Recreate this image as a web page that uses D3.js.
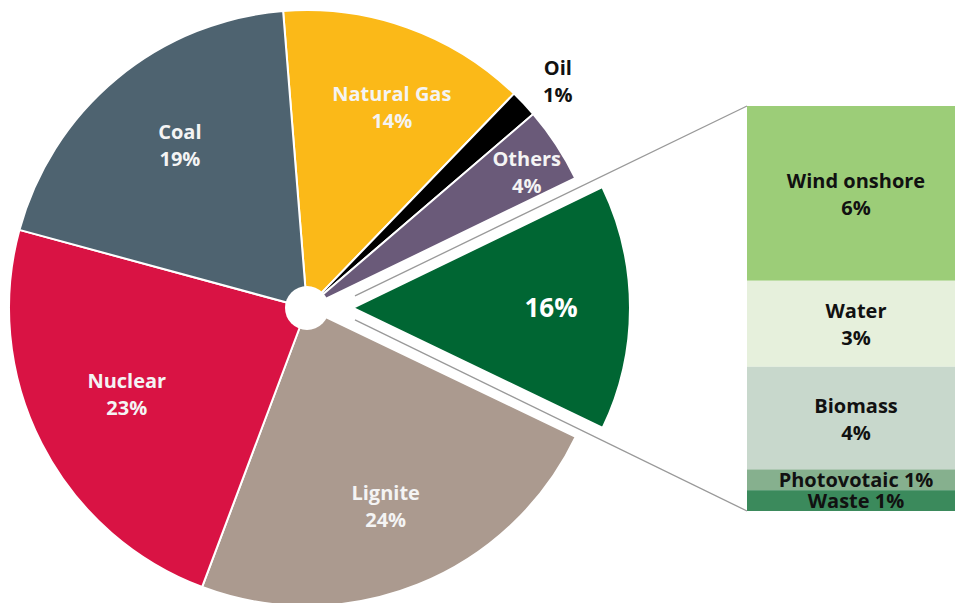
<!DOCTYPE html>
<html>
<head>
<meta charset="utf-8">
<script src="https://cdn.jsdelivr.net/npm/d3@7"></script>
<style>
body { margin: 0; background: #fff; }
text { font-family: 'Open Sans', sans-serif; font-weight: 700; }
</style>
</head>
<body>
<svg width="955" height="603"></svg>
<script>
// electricity mix (shares as drawn, labels as printed)
var sources = ['Natural Gas', 'Oil', 'Others', 'Renewables', 'Lignite', 'Nuclear', 'Coal'];
var shares = [13.5, 1.5, 4.1, 14.3, 23.6, 23.5, 19.5];
var shareLabels = ['14%', '1%', '4%', '16%', '24%', '23%', '19%'];
var sourceColors = ['#fbb918', '#000000', '#6a5a79', '#006633', '#ab9a8f', '#d91344', '#4e6370'];

// breakdown of renewables
var renewables = ['Wind onshore', 'Water', 'Biomass', 'Photovotaic', 'Waste'];
var renewableShares = [6.3, 3.1, 3.7, 0.75, 0.75];
var renewableLabels = ['6%', '3%', '4%', '1%', '1%'];
var renewableColors = ['#9ccd78', '#e6f0dc', '#c8d8cc', '#86b08e', '#3b8a5c'];

var svg = d3.select('svg');

var cx = 307, cy = 308, R = 298;
var startA = -4.6 * Math.PI / 180;
var explode = 46, greenR = 277;
var deg = Math.PI / 180;

var pie = d3.pie().sort(null).value(function(d) { return d; })
    .startAngle(startA).endAngle(startA + 2 * Math.PI);
var arcs = pie(shares);

var arc = d3.arc().innerRadius(0).outerRadius(R);
var arcGreen = d3.arc().innerRadius(0).outerRadius(greenR);

function mid(d) { return (d.startAngle + d.endAngle) / 2; }
function polar(a, r) { return [Math.sin(a) * r, -Math.cos(a) * r]; }

var g = svg.append('g').attr('transform', 'translate(' + cx + ',' + cy + ')');

g.selectAll('path.slice')
    .data(arcs)
    .enter()
    .append('path')
    .attr('class', 'slice')
    .attr('transform', function(d, i) {
        if (sources[i] !== 'Renewables') return null;
        var p = polar(mid(d), explode);
        return 'translate(' + p[0] + ',' + p[1] + ')';
    })
    .attr('d', function(d, i) { return sources[i] === 'Renewables' ? arcGreen(d) : arc(d); })
    .attr('fill', function(d, i) { return sourceColors[i]; })
    .attr('stroke', '#fff')
    .attr('stroke-width', 2);

g.append('circle').attr('r', 22).attr('fill', '#fff');

// labels: radius and a small angle nudge from the slice middle
var labelR = { 'Natural Gas': 218, 'Oil': 338, 'Others': 258, 'Lignite': 214, 'Nuclear': 200, 'Coal': 206, 'Renewables': 198 };
var labelShift = { 'Natural Gas': 3.2, 'Oil': 1.2, 'Others': 1.6, 'Lignite': 0.3, 'Nuclear': 1.4, 'Coal': 1.6, 'Renewables': 0 };
arcs.forEach(function(d, i) {
    var name = sources[i];
    var p = polar(mid(d) + labelShift[name] * deg, labelR[name]);
    if (name === 'Renewables') {
        p[0] += polar(mid(d), explode)[0];
        g.append('text')
            .attr('x', p[0]).attr('y', p[1] + 9)
            .attr('text-anchor', 'middle')
            .attr('font-size', 26)
            .attr('fill', '#fff')
            .text(shareLabels[i]);
        return;
    }
    var t = g.append('text')
        .attr('text-anchor', 'middle')
        .attr('font-size', 20)
        .attr('fill', name === 'Oil' ? '#111' : '#f4f4f4');
    t.append('tspan').attr('x', p[0]).attr('y', p[1] - 6.5).text(name);
    t.append('tspan').attr('x', p[0]).attr('y', p[1] + 20.5).text(shareLabels[i]);
});

// stacked breakdown box
var boxX = 747, boxW = 218;
var total = d3.sum(renewableShares);
var scaleY = d3.scaleLinear().domain([0, total]).range([106, 511]);
var cum = 0;
var stack = renewableShares.map(function(v) { var s = cum; cum += v; return [s, cum]; });

svg.selectAll('rect.part')
    .data(stack)
    .enter()
    .append('rect')
    .attr('class', 'part')
    .attr('x', boxX)
    .attr('y', function(d) { return scaleY(d[0]); })
    .attr('width', boxW)
    .attr('height', function(d) { return scaleY(d[1]) - scaleY(d[0]); })
    .attr('fill', function(d, i) { return renewableColors[i]; });

stack.forEach(function(d, i) {
    var m = (scaleY(d[0]) + scaleY(d[1])) / 2;
    var x = boxX + boxW / 2;
    var t = svg.append('text')
        .attr('text-anchor', 'middle')
        .attr('font-size', 20)
        .attr('fill', '#111');
    if (scaleY(d[1]) - scaleY(d[0]) < 40) {
        t.attr('x', x).attr('y', m + 7).text(renewables[i] + ' ' + renewableLabels[i]);
    } else {
        t.append('tspan').attr('x', x).attr('y', m - 5.5).text(renewables[i]);
        t.append('tspan').attr('x', x).attr('y', m + 21.5).text(renewableLabels[i]);
    }
});

// connector lines from the pulled-out slice to the box
var green = arcs[sources.indexOf('Renewables')];
var tip = polar(mid(green), explode);
var tx = cx + tip[0] + 2, ty = cy + tip[1];
svg.append('line')
    .attr('x1', tx).attr('y1', ty - 12)
    .attr('x2', boxX).attr('y2', scaleY(0))
    .attr('stroke', '#999').attr('stroke-width', 1.3);
svg.append('line')
    .attr('x1', tx).attr('y1', ty + 12)
    .attr('x2', boxX).attr('y2', scaleY(total))
    .attr('stroke', '#999').attr('stroke-width', 1.3);
</script>
</body>
</html>
